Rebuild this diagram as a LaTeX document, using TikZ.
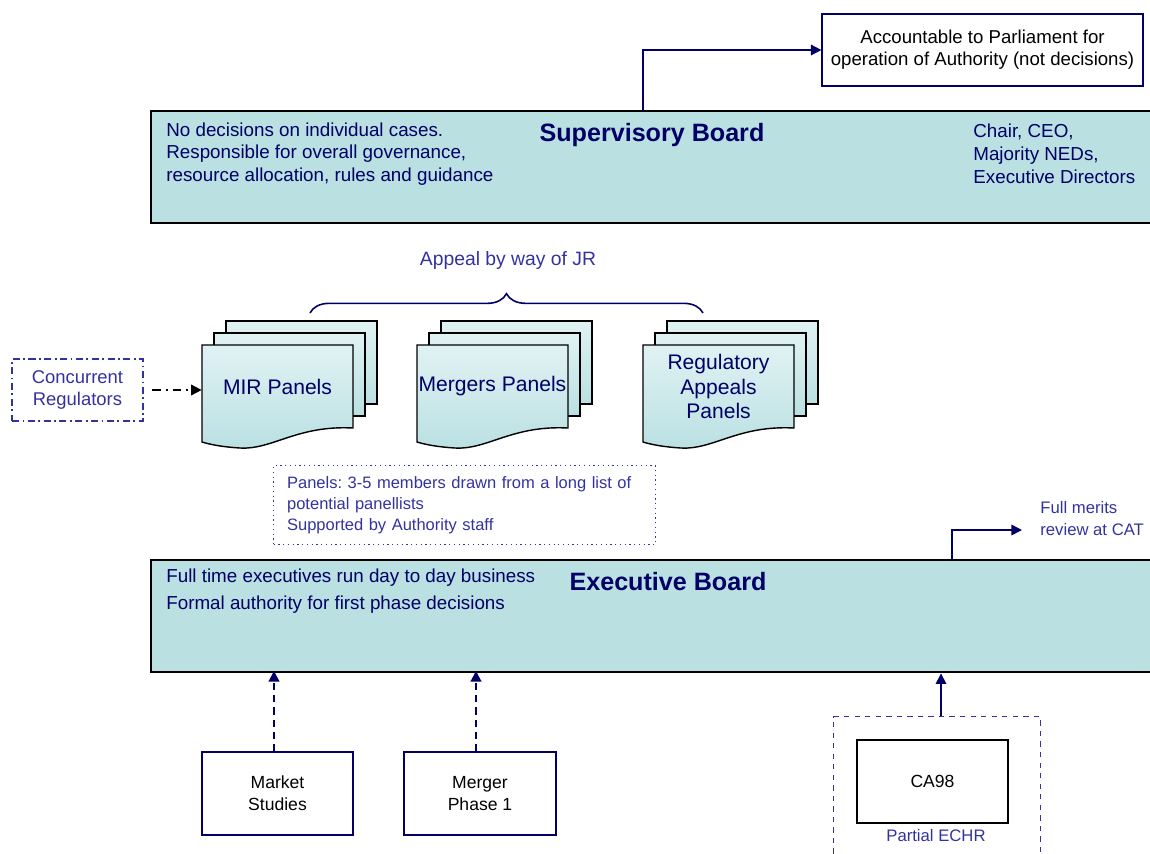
\documentclass[tikz,border=0pt]{standalone}
\usepackage{fontspec}
\setmainfont{Liberation Sans}
\usetikzlibrary{positioning,arrows.meta,decorations.pathreplacing}
\definecolor{navy}{HTML}{000066}
\definecolor{txtblue}{HTML}{3333A0}
\definecolor{boardfill}{HTML}{BAE0E2}
\definecolor{docfill}{HTML}{E0F2F3}
\frenchspacing

% stack of three panel documents, front one with a wavy bottom
\newcommand\panelstack[4]{%
    \foreach \d in {24,12} {
        \draw[docsheet] (#1+\d,#2-\d) rectangle ++(151,83);
    }
    \draw[docsheet] (#1,#2) -- (#1+151,#2) -- (#1+151,#2+83)
        .. controls (#1+95,#2+80) and (#1+70,#2+105) .. (#1+38,#2+103)
        .. controls (#1+22,#2+102) and (#1+10,#2+100) .. (#1,#2+97) -- cycle;
    \node[doclabel] (#3) at (#1+75.5,#2+41.5) {#4};
}

\begin{document}
\begin{tikzpicture}[x=0.02cm,y=-0.02cm,
    board/.style={draw=black,line width=1.4pt,fill=boardfill,anchor=north west,
        minimum width=20.2cm,minimum height=2.24cm,inner sep=0pt},
    boardtext/.style={text=navy,font=\fontsize{10.7}{13}\selectfont,align=left,anchor=west,inner sep=0pt},
    boardtitle/.style={text=navy,font=\fontsize{14.3}{16}\bfseries\selectfont,inner sep=0pt},
    docsheet/.style={draw=black,line width=0.8pt,top color=docfill,bottom color=boardfill},
    doclabel/.style={text=navy,font=\fontsize{12}{14}\selectfont,align=center,
        minimum width=3.02cm,minimum height=1.66cm,inner sep=0pt},
    plainbox/.style={draw=navy,line width=0.7pt,font=\fontsize{10}{12.5}\selectfont,align=center},
    bluetext/.style={text=txtblue,inner sep=0pt},
    navyarrow/.style={draw=navy,line width=0.9pt,-{Triangle[length=6pt,width=6pt]}},
    dasharrow/.style={draw=navy,line width=1.2pt,dash pattern=on 4pt off 3pt,
        -{Triangle[length=6pt,width=6pt]}},
    dashdot/.style={dash pattern=on 4pt off 2pt on 1pt off 2pt}]
    \useasboundingbox (0,0) rectangle (1150,853);

    % Supervisory Board
    \node[plainbox,font=\fontsize{10.6}{12.5}\selectfont,minimum width=6.42cm,minimum height=1.44cm]
        (acc) at (982.5,50) {Accountable to Parliament for\\operation of Authority (not decisions)};
    \node[board] (sup) at (150,110) {};
    \node[boardtext] (suptxt) at (166,154) {No decisions on individual cases.\\
        Responsible for overall governance,\\resource allocation, rules and guidance};
    \node[boardtitle] (suptitle) at (652,135) {Supervisory Board};
    \node[boardtext] (supmem) at (973,154) {Chair, CEO,\\Majority NEDs,\\Executive Directors};
    \coordinate (supout) at (643,110);
    \draw[navyarrow] (supout) |- (acc.west);

    % Panels
    \node[bluetext,font=\fontsize{11}{12}\selectfont] (jr) at (508,260) {Appeal by way of JR};
    \draw[navy,line width=0.9pt,decorate,decoration={brace,amplitude=11pt}] (310,313) -- (703,313);
    \panelstack{202}{345}{mir}{MIR Panels}
    \panelstack{417}{345}{merg}{Mergers Panels}
    \panelstack{643}{345}{reg}{Regulatory\\Appeals\\Panels}

    \node[draw=txtblue,dashdot,line width=0.7pt,text=txtblue,align=center,
        font=\fontsize{10.5}{13}\selectfont,minimum width=2.62cm,minimum height=1.24cm]
        (conc) at (77.5,390) {Concurrent\\Regulators};
    \draw[black,line width=1pt,dash pattern=on 5pt off 2.5pt on 1.5pt off 2.5pt,
        -{Triangle[length=6pt,width=6pt]},shorten <=5pt] (conc.east) -- (mir.west |- conc.east);

    \node[draw=txtblue,dotted,line width=0.7pt,text=txtblue,align=left,anchor=north west,
        font=\fontsize{9.4}{11.9}\selectfont,text width=7.1cm,inner xsep=0.27cm,
        minimum height=1.58cm] (note) at (273,465)
        {Panels: 3-5 members drawn from a long list of\\potential panellists\\Supported by Authority staff};

    % Executive Board
    \node[board] (exec) at (150,559) {};
    \node[boardtext,font=\fontsize{10.7}{15.3}\selectfont] (exectxt) at (166,591.5)
        {Full time executives run day to day business\\Formal authority for first phase decisions};
    \node[boardtitle] (exectitle) at (668,582) {Executive Board};
    \node[bluetext,align=left,anchor=west,font=\fontsize{9.5}{12.5}\selectfont] (cat) at (1040,519)
        {Full merits\\review at CAT};
    \coordinate (execout) at (952,559);
    \coordinate (catin) at (1022,530);
    \draw[navyarrow] (execout) |- (catin);

    % Inputs to the Executive Board
    \node[plainbox,minimum width=3.02cm,minimum height=1.66cm] (mkt) at (277.5,793.5) {Market\\Studies};
    \node[plainbox,minimum width=3.04cm,minimum height=1.66cm] (mph) at (480,793.5) {Merger\\Phase 1};
    \draw[dasharrow] (mkt.north -| 274,0) -- (274,671);
    \draw[dasharrow] (mph.north -| 476,0) -- (476,671);

    \node[draw=txtblue,dashed,line width=0.7pt,anchor=north west,minimum width=4.14cm,
        minimum height=3cm] (caz) at (833,716) {};
    \node[plainbox,draw=black,minimum width=3.02cm,minimum height=1.66cm] (ca) at (932.5,781.5) {CA98};
    \node[bluetext,font=\fontsize{9.5}{12}\selectfont] (echr) at (936,836) {Partial ECHR};
    \coordinate (caout) at (941,716);
    \draw[navyarrow] (caout) -- (caout |- exec.south);
\end{tikzpicture}
\end{document}
